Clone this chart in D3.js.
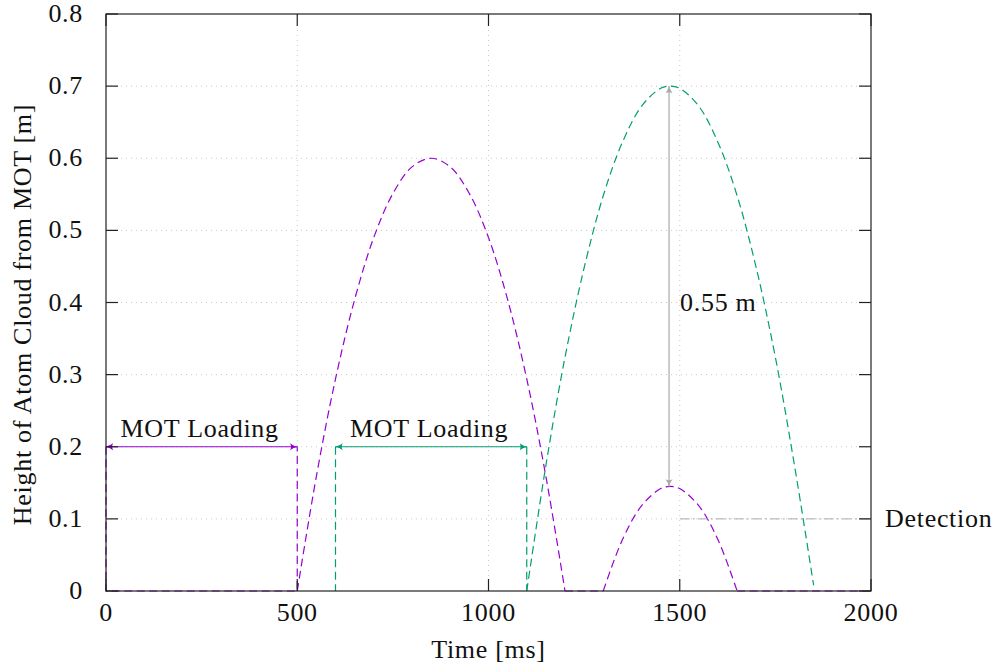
<!DOCTYPE html>
<html>
<head>
<meta charset="utf-8">
<script src="https://cdn.jsdelivr.net/npm/d3@7"></script>
<style>
  body { margin: 0; background: #fff; }
  text { font-family: "Liberation Serif", "DejaVu Serif", serif; fill: #111; letter-spacing: 0.7px; }
</style>
</head>
<body>
<div id="container"></div>
<script>
/* DATA */
const xTicks = [0, 500, 1000, 1500, 2000];
const yTicks = [0, 0.1, 0.2, 0.3, 0.4, 0.5, 0.6, 0.7, 0.8];

// first (purple) launch
const purpleT1 = [500, 550, 600, 650, 700, 750, 800, 850, 900, 950, 1000, 1050, 1100, 1150, 1200];
const purpleH1 = [0, 0.159, 0.294, 0.404, 0.490, 0.551, 0.588, 0.6, 0.588, 0.551, 0.490, 0.404, 0.294, 0.159, 0];
// purple, second bounce
const purpleT2 = [1300, 1350, 1400, 1450, 1475, 1500, 1550, 1600, 1650];
const purpleH2 = [0, 0.071, 0.118, 0.142, 0.145, 0.142, 0.118, 0.071, 0];
// green launch
const greenT = [1100, 1150, 1200, 1250, 1300, 1350, 1400, 1450, 1475, 1500, 1550, 1600, 1650, 1700, 1750, 1800, 1850];
const greenH = [0, 0.174, 0.324, 0.448, 0.548, 0.622, 0.672, 0.697, 0.7, 0.697, 0.672, 0.622, 0.548, 0.448, 0.324, 0.174, 0.008];

// loading intervals
const purpleLoad = [0, 500];
const greenLoad = [600, 1100];
const loadHeight = 0.2;
const gapX = 1472;
const gapLow = 0.145, gapHigh = 0.7;
const detectH = 0.1, detectStart = 1500;

/* CONSTANTS */
const width = 1003, height = 669,
  margin = { top: 14, bottom: 78, left: 106, right: 132 };
const purple = "#9400d3", green = "#009e73", gray = "#aaaaaa";
const fs = 26;

/* SCALES */
const xScale = d3.scaleLinear().domain([0, 2000]).range([margin.left, width - margin.right]);
const yScale = d3.scaleLinear().domain([0, 0.8]).range([height - margin.bottom, margin.top]);

const svg = d3.select("#container").append("svg")
  .attr("width", width).attr("height", height);

// arrow markers
const defs = svg.append("defs");
[["p", purple], ["g", green], ["k", gray]].forEach(([id, c]) => {
  defs.append("marker")
    .attr("id", "arr-" + id)
    .attr("viewBox", "0 -5 10 10")
    .attr("refX", 9).attr("refY", 0)
    .attr("markerWidth", 8).attr("markerHeight", 8)
    .attr("markerUnits", "userSpaceOnUse")
    .attr("orient", "auto-start-reverse")
    .append("path")
    .attr("d", "M0,-4.5 Q4,-1 10,0 Q4,1 0,4.5 Q2.5,0 0,-4.5Z")
    .attr("fill", c);
});

// grid
const x0 = xScale(0), x1 = xScale(2000), y0 = yScale(0), y1 = yScale(0.8);
svg.append("g").selectAll("line").data(xTicks.slice(1, -1)).join("line")
  .attr("x1", d => xScale(d)).attr("x2", d => xScale(d))
  .attr("y1", y0).attr("y2", y1)
  .attr("stroke", "#bbb").attr("stroke-width", 0.8).attr("stroke-dasharray", "1,4");
svg.append("g").selectAll("line").data(yTicks.slice(1, -1)).join("line")
  .attr("x1", x0).attr("x2", x1)
  .attr("y1", d => yScale(d)).attr("y2", d => yScale(d))
  .attr("stroke", "#bbb").attr("stroke-width", 0.8).attr("stroke-dasharray", "1,4");

const straight = d3.line().x(d => xScale(d[0])).y(d => yScale(d[1]));
const smooth = d3.line().x(d => xScale(d[0])).y(d => yScale(d[1])).curve(d3.curveCatmullRom.alpha(0.5));
const dash = "8,4.5";

function dashed(pts, color, gen) {
  svg.append("path").datum(pts).attr("d", gen || straight)
    .attr("fill", "none").attr("stroke", color)
    .attr("stroke-width", 1.2).attr("stroke-dasharray", dash);
}

// baselines and verticals
dashed([[0, loadHeight], [0, 0], [purpleLoad[1], 0], [purpleLoad[1], loadHeight]], purple);
dashed([[1200, 0], [1300, 0]], purple);
dashed([[1650, 0], [2000, 0]], purple);
dashed([[greenLoad[0], loadHeight], [greenLoad[0], 0]], green);
dashed([[greenLoad[1], loadHeight], [greenLoad[1], 0]], green);

// trajectories
dashed(purpleT1.map((t, i) => [t, purpleH1[i]]), purple, smooth);
dashed(purpleT2.map((t, i) => [t, purpleH2[i]]), purple, smooth);
dashed(greenT.map((t, i) => [t, greenH[i]]), green, smooth);

// detection line
svg.append("line")
  .attr("x1", xScale(detectStart)).attr("x2", x1)
  .attr("y1", yScale(detectH)).attr("y2", yScale(detectH))
  .attr("stroke", gray).attr("stroke-width", 1).attr("stroke-dasharray", "10,3,2,3");
svg.append("text").attr("x", 885).attr("y", yScale(detectH) + 8)
  .attr("font-size", fs).text("Detection");

// double arrows
function arrow(xa, ya, xb, yb, id, color) {
  svg.append("line")
    .attr("x1", xScale(xa)).attr("y1", yScale(ya))
    .attr("x2", xScale(xb)).attr("y2", yScale(yb))
    .attr("stroke", color).attr("stroke-width", 1.2)
    .attr("marker-start", `url(#arr-${id})`).attr("marker-end", `url(#arr-${id})`);
}
arrow(purpleLoad[0], loadHeight, purpleLoad[1], loadHeight, "p", purple);
arrow(greenLoad[0], loadHeight, greenLoad[1], loadHeight, "g", green);
arrow(gapX, gapLow, gapX, gapHigh, "k", gray);

svg.append("text").attr("x", xScale(d3.mean(purpleLoad)) - 2).attr("y", yScale(loadHeight) - 10)
  .attr("text-anchor", "middle").attr("font-size", fs).text("MOT Loading");
svg.append("text").attr("x", xScale(d3.mean(greenLoad)) - 2).attr("y", yScale(loadHeight) - 10)
  .attr("text-anchor", "middle").attr("font-size", fs).text("MOT Loading");
svg.append("text").attr("x", xScale(gapX) + 11).attr("y", yScale(0.4) + 8)
  .attr("font-size", fs).text("0.55 m");

// frame and ticks
svg.append("rect").attr("x", x0).attr("y", y1)
  .attr("width", x1 - x0).attr("height", y0 - y1)
  .attr("fill", "none").attr("stroke", "#222").attr("stroke-width", 1.2);

const tickLen = 12;
const tk = svg.append("g").attr("stroke", "#222").attr("stroke-width", 1.2);
xTicks.forEach(d => {
  tk.append("line").attr("x1", xScale(d)).attr("x2", xScale(d)).attr("y1", y0).attr("y2", y0 - tickLen);
  tk.append("line").attr("x1", xScale(d)).attr("x2", xScale(d)).attr("y1", y1).attr("y2", y1 + tickLen);
});
yTicks.forEach(d => {
  tk.append("line").attr("y1", yScale(d)).attr("y2", yScale(d)).attr("x1", x0).attr("x2", x0 + tickLen);
  tk.append("line").attr("y1", yScale(d)).attr("y2", yScale(d)).attr("x1", x1).attr("x2", x1 - tickLen);
});

svg.append("g").selectAll("text").data(xTicks).join("text")
  .attr("x", d => xScale(d)).attr("y", y0 + 30)
  .attr("text-anchor", "middle").attr("font-size", fs).text(d => d);
svg.append("g").selectAll("text").data(yTicks).join("text")
  .attr("x", x0 - 23).attr("y", d => yScale(d) + 8)
  .attr("text-anchor", "end").attr("font-size", fs).text(d => d === 0 ? "0" : d.toFixed(1));

// axis titles
svg.append("text").attr("x", (x0 + x1) / 2).attr("y", 658)
  .attr("text-anchor", "middle").attr("font-size", fs).text("Time [ms]");
svg.append("text").attr("transform", `translate(31,${(y0 + y1) / 2 + 12}) rotate(-90)`)
  .attr("text-anchor", "middle").attr("font-size", fs).text("Height of Atom Cloud from MOT [m]");
</script>
</body>
</html>
